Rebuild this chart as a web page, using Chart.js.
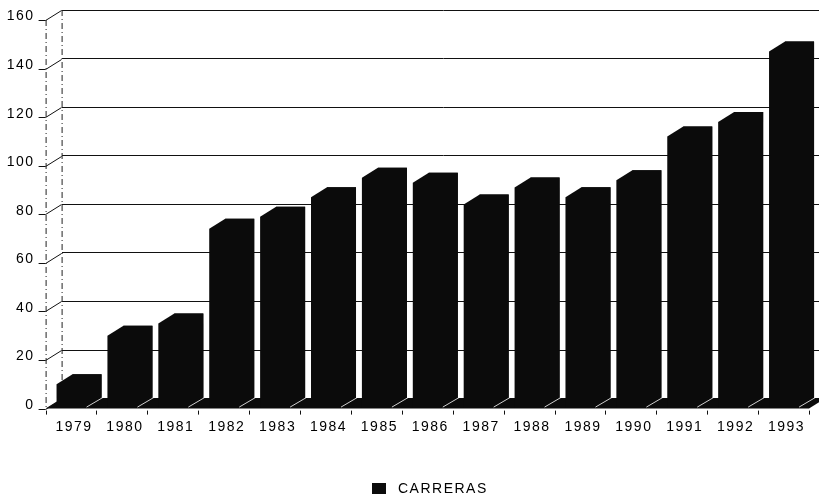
<!DOCTYPE html>
<html>
<head>
<meta charset="utf-8">
<script src="https://cdn.jsdelivr.net/npm/chart.js@4/dist/chart.umd.min.js"></script>
<style>
  html, body { margin: 0; padding: 0; background: #fff; }
  #wrap { width: 819px; height: 504px; overflow: hidden; }
</style>
</head>
<body>
<div id="wrap"><canvas id="chart" width="830" height="504"></canvas></div>
<script>
// data
const years = ["1979", "1980", "1981", "1982", "1983", "1984", "1985", "1986", "1987", "1988", "1989", "1990", "1991", "1992", "1993"];
const carreras = [10, 30, 35, 74, 79, 87, 95, 93, 84, 91, 87, 94, 112, 118, 147];
const yTicks = [0, 20, 40, 60, 80, 100, 120, 140, 160];
const seriesLabel = "CARRERAS";

const INK = "#0b0b0b";
const DX = 16, DY = 10; // fake 3d depth

Chart.defaults.font.family = "'Liberation Sans', Arial, sans-serif";
Chart.defaults.font.size = 14;
Chart.defaults.color = "#000";

const depth = {
  id: "depth",
  beforeDraw(chart) {
    chart.ctx.letterSpacing = "1.5px";
  },
  beforeDatasetsDraw(chart) {
    const { ctx, chartArea: a, scales: { x, y } } = chart;
    ctx.save();
    // floor
    ctx.fillStyle = INK;
    ctx.beginPath();
    ctx.moveTo(a.left - DX, a.bottom + DY);
    ctx.lineTo(a.left, a.bottom);
    ctx.lineTo(a.right, a.bottom);
    ctx.lineTo(a.right - DX, a.bottom + DY);
    ctx.closePath();
    ctx.fill();

    // dash-dot walls
    ctx.strokeStyle = "#222";
    ctx.lineWidth = 1;
    ctx.setLineDash([6, 3, 1, 3]);
    ctx.beginPath();
    ctx.moveTo(a.left - DX + 0.5, y.getPixelForValue(y.max) + DY);
    ctx.lineTo(a.left - DX + 0.5, a.bottom + DY);
    ctx.moveTo(a.left + 0.5, a.top);
    ctx.lineTo(a.left + 0.5, a.bottom);
    ctx.stroke();
    ctx.setLineDash([]);

    // front ticks joined to the back wall grid
    ctx.strokeStyle = "#111";
    for (const t of y.ticks) {
      const py = Math.round(y.getPixelForValue(t.value)) + 0.5;
      ctx.beginPath();
      ctx.moveTo(a.left - DX - 7, py + DY);
      ctx.lineTo(a.left - DX, py + DY);
      ctx.lineTo(a.left, py);
      ctx.stroke();
    }

    // small marks under the floor between categories
    ctx.beginPath();
    for (let i = 0; i <= years.length; i++) {
      const px = Math.round(x.getPixelForValue(i - 0.5) - DX) + 0.5;
      ctx.moveTo(px, a.bottom + DY + 2);
      ctx.lineTo(px, a.bottom + DY + 6);
    }
    ctx.stroke();
    ctx.restore();
  },
  afterDatasetsDraw(chart) {
    const { ctx } = chart;
    ctx.save();
    for (const bar of chart.getDatasetMeta(0).data) {
      const L = bar.x - bar.width / 2, R = bar.x + bar.width / 2;
      ctx.fillStyle = INK;
      ctx.beginPath();
      ctx.moveTo(L - DX, bar.y + DY);
      ctx.lineTo(L, bar.y);
      ctx.lineTo(R, bar.y);
      ctx.lineTo(R, bar.base);
      ctx.lineTo(R - DX, bar.base + DY);
      ctx.lineTo(L - DX, bar.base + DY);
      ctx.closePath();
      ctx.fill();
      // light edge where the bar meets the floor
      ctx.strokeStyle = "rgba(255,255,255,0.8)";
      ctx.lineWidth = 1;
      ctx.beginPath();
      ctx.moveTo(R - DX + 1, bar.base + DY - 1);
      ctx.lineTo(R + 2, bar.base - 1);
      ctx.stroke();
    }
    ctx.restore();
  },
  afterDraw(chart) {
    // legend placed like the original (not centred on the canvas)
    const { ctx } = chart;
    ctx.save();
    ctx.fillStyle = INK;
    ctx.fillRect(372, 483, 14, 11);
    ctx.letterSpacing = "1.5px";
    ctx.font = "14px 'Liberation Sans', Arial, sans-serif";
    ctx.fillStyle = "#000";
    ctx.textBaseline = "middle";
    ctx.fillText(chart.data.datasets[0].label, 398, 489);
    ctx.restore();
  },
};

new Chart(document.getElementById("chart"), {
  type: "bar",
  data: {
    labels: years,
    datasets: [{
      label: seriesLabel,
      data: carreras,
      backgroundColor: INK,
      borderWidth: 0,
      categoryPercentage: 1,
      barPercentage: 0.57,
    }],
  },
  options: {
    responsive: false,
    animation: false,
    layout: { padding: { top: 10, right: 5, left: 0, bottom: 0 } },
    plugins: { legend: { display: false }, tooltip: { enabled: false } },
    scales: {
      x: {
        grid: { display: false, drawTicks: false },
        border: { display: false },
        ticks: { padding: 20, labelOffset: -13, maxRotation: 0, autoSkip: false },
        afterFit: (s) => { s.height = 105.4; s.paddingLeft = 0; s.paddingRight = 0; },
      },
      y: {
        min: 0,
        max: 160,
        afterBuildTicks: (s) => { s.ticks = yTicks.map((v) => ({ value: v })); },
        grid: { color: "#111", lineWidth: 1, drawTicks: false },
        border: { display: false },
        ticks: { padding: 27, labelOffset: 6.5 },
        afterFit: (s) => { s.width = 61.6; s.paddingTop = 0; s.paddingBottom = 0; },
      },
    },
  },
  plugins: [depth],
});
</script>
</body>
</html>
